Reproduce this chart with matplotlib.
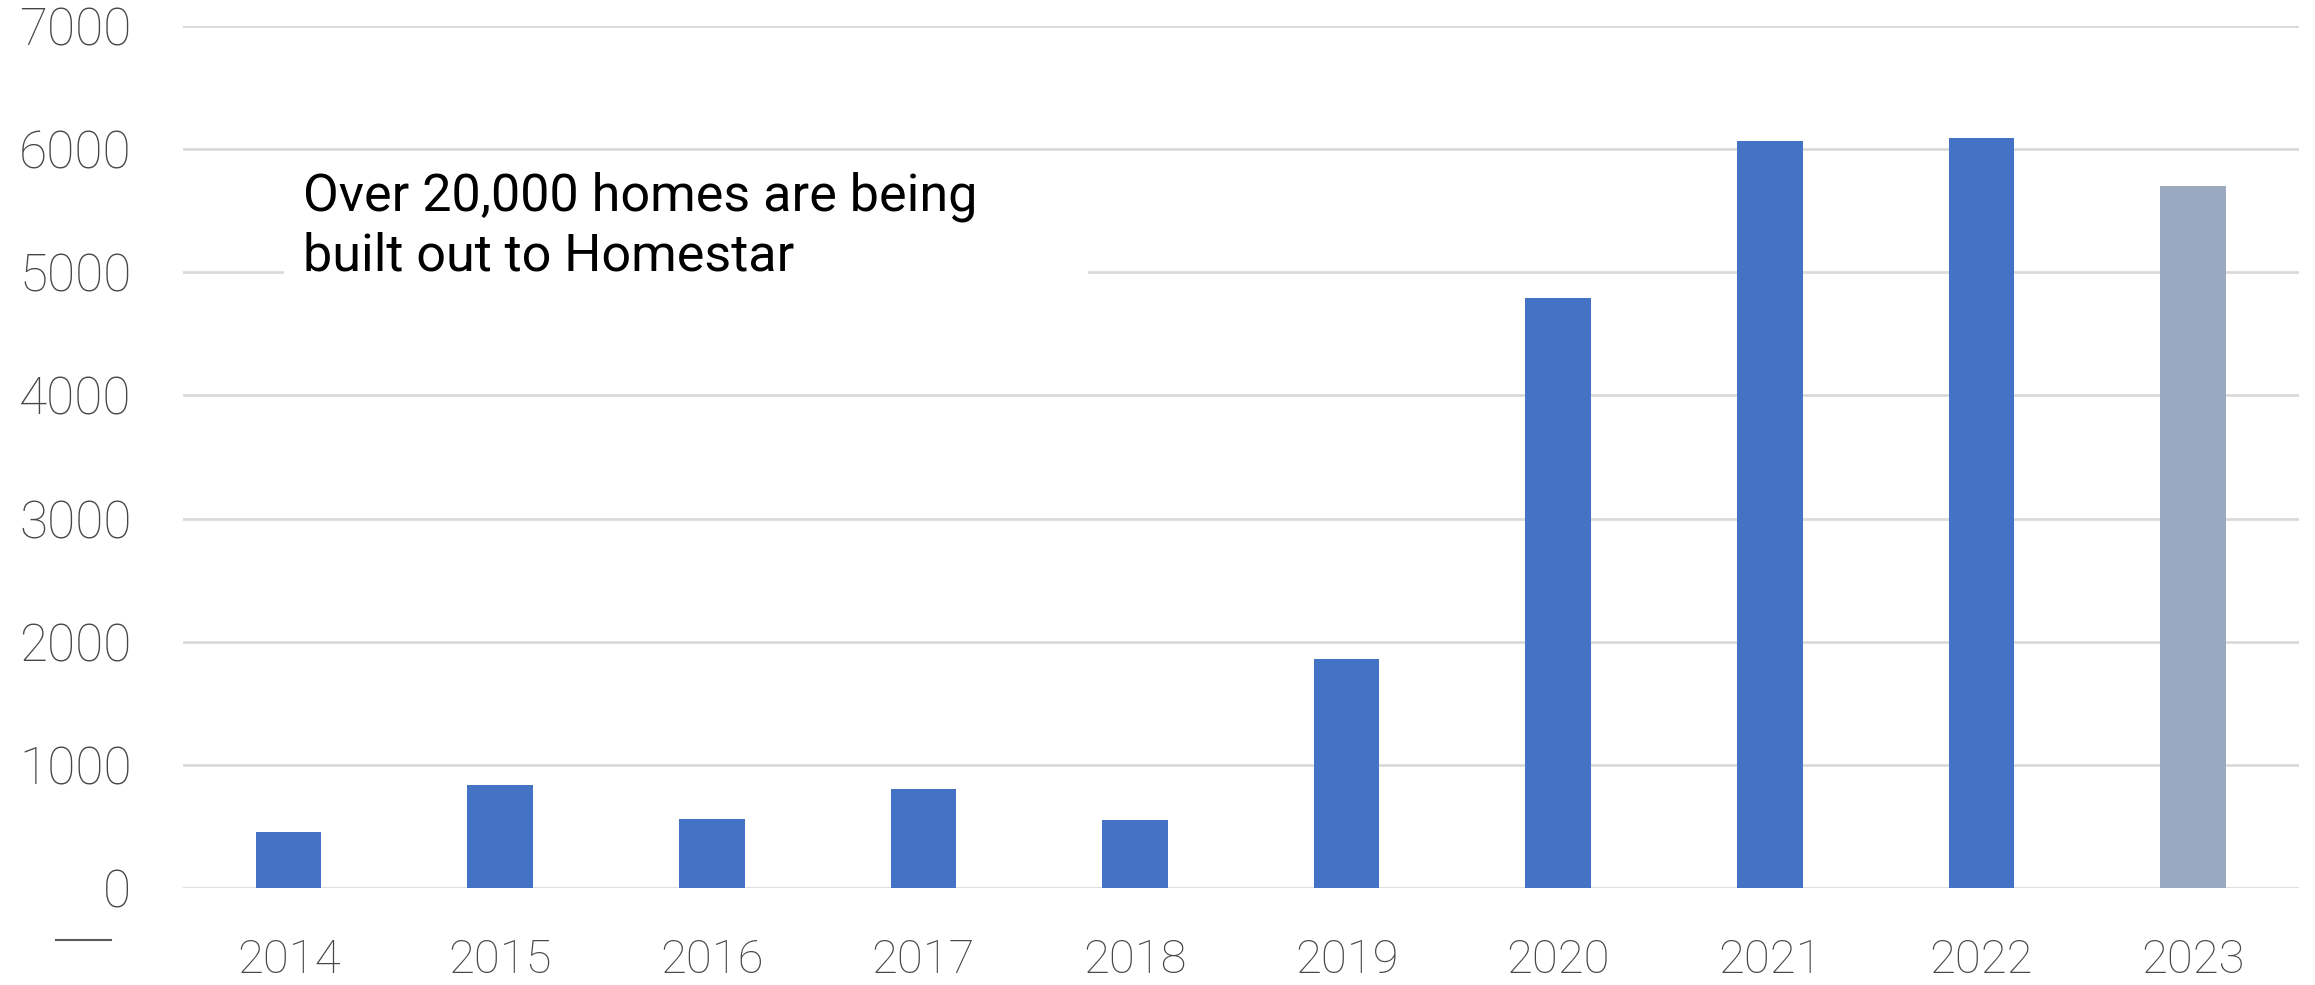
import matplotlib.pyplot as plt
from matplotlib.lines import Line2D
from matplotlib.patches import Rectangle

# donnees
years = ["2014", "2015", "2016", "2017", "2018", "2019", "2020", "2021", "2022", "2023"]
homes = [455, 837, 558, 804, 552, 1860, 4793, 6063, 6093, 5703]
colors = ["#4472C4"] * 9 + ["#9AA9BF"]
yticks = [0, 1000, 2000, 3000, 4000, 5000, 6000, 7000]
note = "Over 20,000 homes are being\nbuilt out to Homestar"

fig = plt.figure(figsize=(23.15, 9.85), dpi=100)
ax = fig.add_axes([0.079, 0.0985, 0.914, 0.8751])

x = range(len(years))
ax.bar(x, homes, width=0.31, color=colors, zorder=3)

ax.set_xlim(-0.5, len(years) - 0.5)
ax.set_ylim(0, 7000)
ax.set_yticks(yticks)
ax.set_yticklabels([str(v) for v in yticks])
ax.set_xticks(list(x))
ax.set_xticklabels(years)

# grille grise, pas de cadre
ax.grid(axis="y", color="#D9D9D9", linewidth=1.9, zorder=0)
ax.grid(axis="x", visible=False)
for s in ax.spines.values():
    s.set_visible(False)
ax.tick_params(length=0, colors="#474747")
ax.tick_params(axis="y", pad=37, labelsize=37)
ax.tick_params(axis="x", pad=36, labelsize=34)
for lab in ax.get_xticklabels() + ax.get_yticklabels():
    lab.set_fontfamily(["Roboto", "DejaVu Sans"])
    lab.set_fontweight("light")

# cadre blanc derriere le texte
ax.add_patch(Rectangle((0.048, 0.69), 0.38, 0.15, transform=ax.transAxes,
                       facecolor="white", edgecolor="none", zorder=2))
ax.text(0.057, 0.831, note, transform=ax.transAxes, fontsize=37.5,
        family=["Roboto", "DejaVu Sans"], color="black",
        va="top", ha="left", linespacing=1.25, zorder=4)

# petit trait en bas a gauche
fig.add_artist(Line2D([56 / 2315, 111 / 2315], [1 - 940 / 985, 1 - 940 / 985],
                      color="#595959", linewidth=1.5))

fig.savefig("out.png", dpi=100)
